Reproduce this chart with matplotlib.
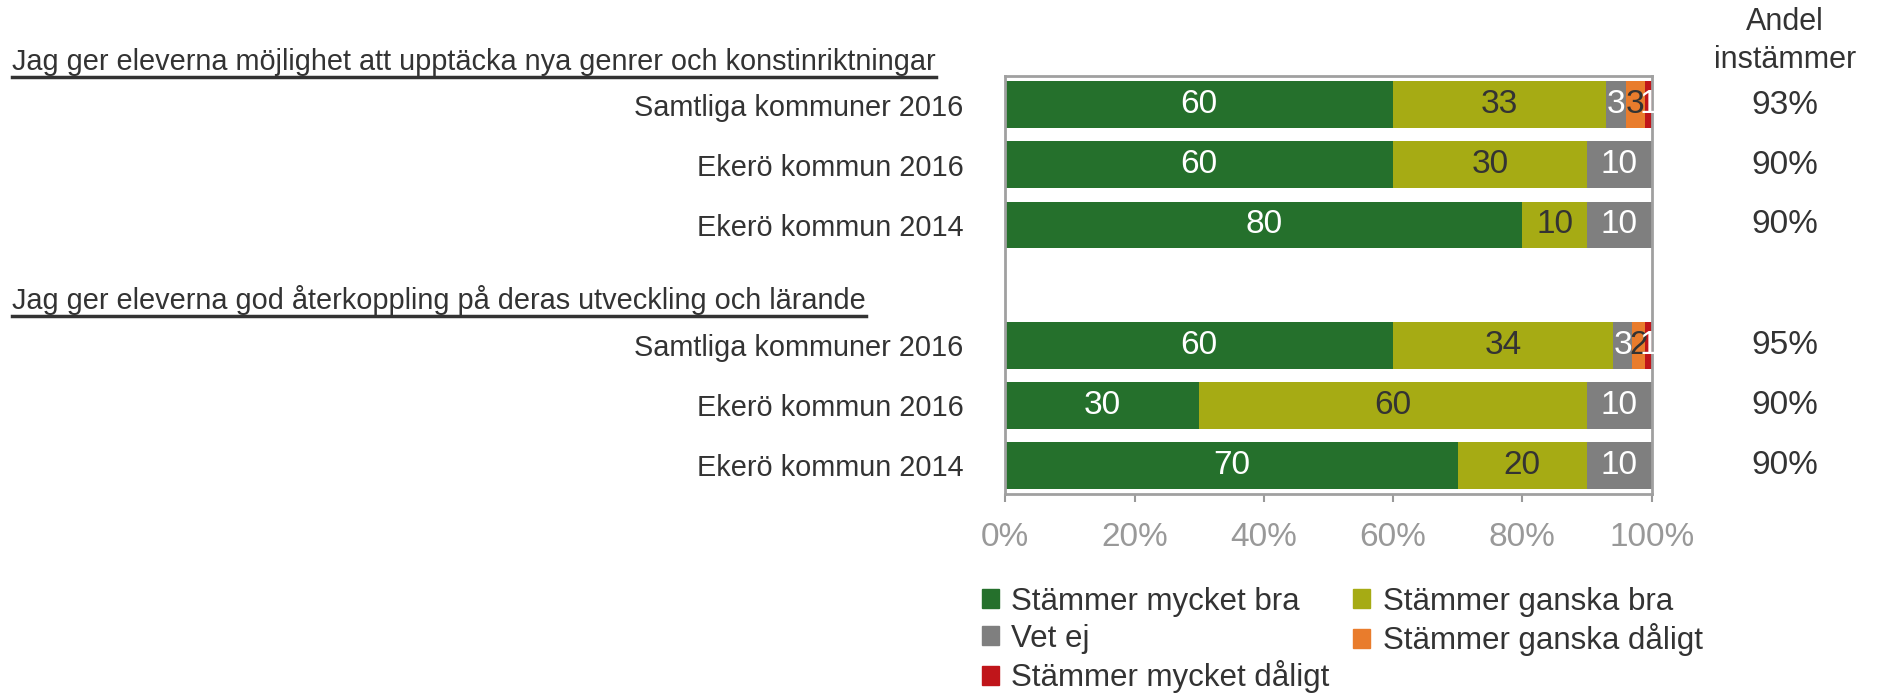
import matplotlib.pyplot as plt
from matplotlib.patches import Patch

plt.rcParams['font.family'] = ['Liberation Sans', 'DejaVu Sans']

# data
rows = ['Samtliga kommuner 2016', 'Ekerö kommun 2016', 'Ekerö kommun 2014',
        '', 'Samtliga kommuner 2016', 'Ekerö kommun 2016', 'Ekerö kommun 2014']
headers = ['Jag ger eleverna möjlighet att upptäcka nya genrer och konstinriktningar',
           'Jag ger eleverna god återkoppling på deras utveckling och lärande']
series = ['Stämmer mycket bra', 'Stämmer ganska bra', 'Vet ej',
          'Stämmer ganska dåligt', 'Stämmer mycket dåligt']
mycket_bra = [60, 60, 80, 0, 60, 30, 70]
ganska_bra = [33, 30, 10, 0, 34, 60, 20]
vet_ej = [3, 10, 10, 0, 3, 10, 10]
ganska_daligt = [3, 0, 0, 0, 2, 0, 0]
mycket_daligt = [1, 0, 0, 0, 1, 0, 0]
andel = ['93%', '90%', '90%', '', '95%', '90%', '90%']

colors = ['#25702c', '#a6ab14', '#7f7f7f', '#e97c2c', '#c0151a']
label_colors = ['white', '#333333', 'white', '#333333', 'white']
values = [mycket_bra, ganska_bra, vet_ej, ganska_daligt, mycket_daligt]

fig = plt.figure(figsize=(18.79, 6.97), dpi=100)
ax = fig.add_axes([0.535, 0.291, 0.344, 0.600])

fs = 20.8    # row labels, headers
fs_big = 24  # numbers
left = [0] * len(rows)
for vals, c, lc in zip(values, colors, label_colors):
    for i, v in enumerate(vals):
        if v == 0:
            continue
        ax.barh(i, v, left=left[i], height=0.78, color=c)
        ax.text(left[i] + v / 2, i, str(v), ha='center', va='center',
                color=lc, fontsize=fs_big)
        left[i] += v

ax.set_xlim(0, 100)
ax.set_ylim(6.48, -0.48)
ax.set_xticks([0, 20, 40, 60, 80, 100])
ax.set_xticklabels(['0%', '20%', '40%', '60%', '80%', '100%'])
ax.tick_params(axis='x', colors='#999999', labelcolor='#999999', labelsize=fs_big,
               length=6, width=1.5, pad=14)
ax.set_yticks([i for i, r in enumerate(rows) if r])
ax.set_yticklabels([r for r in rows if r])
ax.tick_params(axis='y', length=0, labelsize=fs, labelcolor='#333333', pad=30)
for s in ax.spines.values():
    s.set_color('#a0a0a0')
    s.set_linewidth(2)

# andel instämmer column
for i, a in enumerate(andel):
    if a:
        fig.text(1785 / 1879, 1 - (105 + 60 * i) / 697, a, ha='center',
                 va='center', fontsize=fs_big, color='#333333')
fig.text(1785 / 1879, 1 - 22 / 697, 'Andel', ha='center', va='center',
         fontsize=22, color='#333333')
fig.text(1785 / 1879, 1 - 60 / 697, 'instämmer', ha='center', va='center',
         fontsize=22, color='#333333')

# underlined headers
hdr = []
for h, y in zip(headers, [62, 300]):
    hdr.append(fig.text(12 / 1879, 1 - y / 697, h, ha='left', va='center',
                        fontsize=fs, color='#333333'))

# legend filled column-wise, so reorder to read row-wise like the original
order = [0, 2, 4, 1, 3]
handles = [Patch(color=colors[k], label=series[k]) for k in order]
fig.legend(handles=handles, ncol=2, loc='upper left',
           bbox_to_anchor=(966 / 1879, 1 - 571 / 697), frameon=False,
           fontsize=22.5, handlelength=0.55, handleheight=0.55, handletextpad=0.4,
           columnspacing=0.75, labelspacing=0.22, labelcolor='#333333',
           borderpad=0)

fig.canvas.draw()
r = fig.canvas.get_renderer()
for t in hdr:
    bb = t.get_window_extent(r)
    y = (bb.y0 - 1) / fig.bbox.height
    fig.add_artist(plt.Line2D([bb.x0 / fig.bbox.width, bb.x1 / fig.bbox.width],
                              [y, y], color='#333333', lw=2.5))

fig.savefig('out.png', dpi=100)
